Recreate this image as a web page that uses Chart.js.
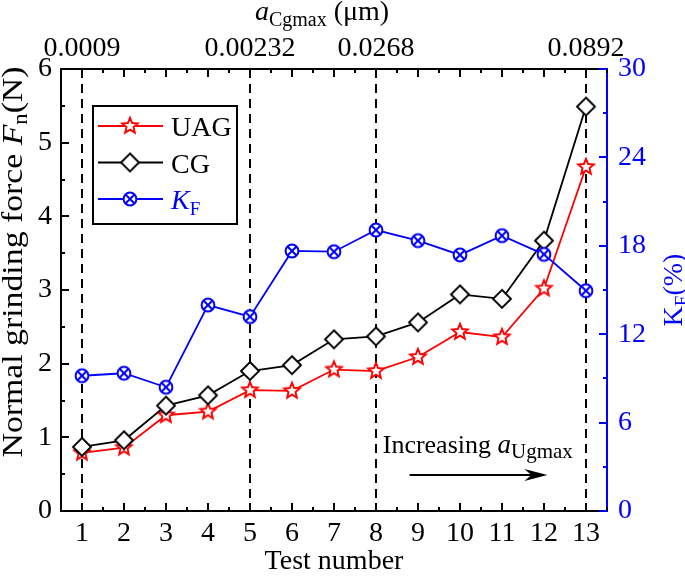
<!DOCTYPE html>
<html>
<head>
<meta charset="utf-8">
<script src="https://cdn.jsdelivr.net/npm/chart.js@4.4.1/dist/chart.umd.min.js"></script>
<style>
  html, body { margin: 0; padding: 0; background: #fff; }
  #wrap { width: 685px; height: 576px; }
</style>
</head>
<body>
<div id="wrap"><canvas id="chart" width="685" height="576"></canvas></div>
<script>
// Test numbers on the bottom axis
var testNumbers = [1, 2, 3, 4, 5, 6, 7, 8, 9, 10, 11, 12, 13];
// Normal grinding force Fn (N)
var uagForce = [0.79, 0.86, 1.30, 1.35, 1.64, 1.63, 1.92, 1.90, 2.09, 2.43, 2.36, 3.02, 4.67];
var cgForce = [0.87, 0.96, 1.43, 1.57, 1.90, 1.98, 2.33, 2.37, 2.56, 2.94, 2.88, 3.67, 5.49];
// Force reduction KF (%) on the right axis
var kfRatio = [9.18, 9.35, 8.40, 13.98, 13.19, 17.65, 17.60, 19.07, 18.35, 17.38, 18.69, 17.42, 14.95];
// Top axis: a_Cgmax (um) at selected tests (dashed lines)
var topTickTests = [1, 5, 8, 13];
var topTickLabels = ['0.0009', '0.00232', '0.0268', '0.0892'];

var SERIF = "'Liberation Serif', 'Times New Roman', serif";
var RED = '#ff0000', BLUE = '#0000ff', BLACK = '#000000';

Chart.defaults.font.family = SERIF;
Chart.defaults.font.size = 28;
Chart.defaults.color = BLACK;

// Marker images (Chart.js has no 5-point star or crossed circle)
function makeMarker(kind, color) {
  var c = document.createElement('canvas');
  c.width = 24; c.height = 24;
  var g = c.getContext('2d');
  g.translate(12, 12);
  g.strokeStyle = color;
  g.fillStyle = '#fff';
  g.lineWidth = 1.9;
  g.beginPath();
  if (kind === 'star') {
    for (var i = 0; i < 10; i++) {
      var r = i % 2 === 0 ? 8.2 : 3.7;
      var ang = -Math.PI / 2 + i * Math.PI / 5;
      g.lineTo(r * Math.cos(ang), r * Math.sin(ang));
    }
    g.closePath();
    g.fill(); g.stroke();
  } else if (kind === 'diamond') {
    g.moveTo(0, -9); g.lineTo(9, 0); g.lineTo(0, 9); g.lineTo(-9, 0);
    g.closePath();
    g.fill(); g.stroke();
  } else {
    g.lineWidth = 2;
    g.arc(0, 0, 6.4, 0, Math.PI * 2);
    g.fill(); g.stroke();
    var d = 6.4 * Math.SQRT1_2;
    g.beginPath();
    g.moveTo(-d, -d); g.lineTo(d, d);
    g.moveTo(d, -d); g.lineTo(-d, d);
    g.stroke();
  }
  return c;
}
var starMark = makeMarker('star', RED);
var diamondMark = makeMarker('diamond', BLACK);
var crossMark = makeMarker('cross', BLUE);

function toPoints(values) {
  return testNumbers.map(function(t, i) { return { x: t, y: values[i] }; });
}

// rich text: parts = [{text, font, dy}]
function richWidth(ctx, parts) {
  var w = 0;
  parts.forEach(function(p) { ctx.font = p.font; w += ctx.measureText(p.text).width; });
  return w;
}
function drawRich(ctx, parts, x, y, color) {
  ctx.fillStyle = color;
  ctx.textAlign = 'left';
  ctx.textBaseline = 'alphabetic';
  parts.forEach(function(p) {
    ctx.font = p.font;
    ctx.fillText(p.text, x, y + (p.dy || 0));
    x += ctx.measureText(p.text).width;
  });
}
function f(size, style) { return (style ? style + ' ' : '') + size + 'px ' + SERIF; }

var yTitle = [
  { text: 'Normal grinding force ', font: f(30) },
  { text: 'F', font: f(30, 'italic') },
  { text: 'n', font: f(20), dy: 5 },
  { text: '(N)', font: f(30) }
];
var yRTitle = [
  { text: 'K', font: f(28) },
  { text: 'F', font: f(19), dy: 6 },
  { text: '(%)', font: f(28) }
];
var topTitle = [
  { text: 'a', font: f(28, 'italic') },
  { text: 'Cgmax', font: f(20), dy: 6 },
  { text: ' (\u03bcm)', font: f(28) }
];
var noteText = [
  { text: 'Increasing ', font: f(26) },
  { text: 'a', font: f(27, 'italic') },
  { text: 'Ugmax', font: f(21), dy: 5 }
];
// annotation anchored in data units (x: test number, y: left axis)
var note = { textX: 8.16, textY: 0.79, arrowFrom: 8.8, arrowTo: 12.08, arrowY: 0.49 };

var extras = {
  id: 'extras',
  beforeDatasetsDraw: function(chart) {
    var ctx = chart.ctx, a = chart.chartArea, xs = chart.scales.x;
    ctx.save();
    ctx.strokeStyle = BLACK;
    ctx.lineWidth = 2;
    ctx.setLineDash([9, 6]);
    topTickTests.forEach(function(t) {
      var p = Math.round(xs.getPixelForValue(t));
      ctx.beginPath();
      ctx.moveTo(p, a.top);
      ctx.lineTo(p, a.bottom);
      ctx.stroke();
    });
    ctx.restore();
  },
  afterDraw: function(chart) {
    var ctx = chart.ctx, a = chart.chartArea;
    var specs = [
      { id: 'x', side: 'bottom', color: BLACK, major: function(v) { return Number.isInteger(v); } },
      { id: 'xTop', side: 'top', color: BLACK, major: function(v) { return Number.isInteger(v); } },
      { id: 'y', side: 'left', color: BLACK, major: function(v) { return Number.isInteger(v); } },
      { id: 'yR', side: 'right', color: BLUE, major: function(v) { return v % 6 === 0; } }
    ];
    // inward tick marks, long for labelled ticks, short for minor
    ctx.save();
    ctx.lineWidth = 2;
    specs.forEach(function(s) {
      var sc = chart.scales[s.id];
      ctx.strokeStyle = s.color;
      sc.ticks.forEach(function(t) {
        var len = s.major(t.value) ? 8 : 4;
        var p = Math.round(sc.getPixelForValue(t.value));
        ctx.beginPath();
        if (s.side === 'bottom') { ctx.moveTo(p, a.bottom); ctx.lineTo(p, a.bottom - len); }
        if (s.side === 'top') { ctx.moveTo(p, a.top); ctx.lineTo(p, a.top + len); }
        if (s.side === 'left') { ctx.moveTo(a.left, p); ctx.lineTo(a.left + len, p); }
        if (s.side === 'right') { ctx.moveTo(a.right, p); ctx.lineTo(a.right - len, p); }
        ctx.stroke();
      });
    });
    ctx.restore();

    // left axis title, stretched to the reference length
    ctx.save();
    ctx.translate(a.left - 39, a.top + 193);
    ctx.rotate(-Math.PI / 2);
    var w = richWidth(ctx, yTitle);
    ctx.scale(391 / w, 1);
    drawRich(ctx, yTitle, -w / 2, 0, BLACK);
    ctx.restore();

    // right axis title
    ctx.save();
    ctx.translate(a.right + 75, (a.top + a.bottom) / 2);
    ctx.rotate(-Math.PI / 2);
    w = richWidth(ctx, yRTitle);
    drawRich(ctx, yRTitle, -w / 2, 0, BLUE);
    ctx.restore();

    // top axis title
    ctx.save();
    w = richWidth(ctx, topTitle);
    drawRich(ctx, topTitle, 322 - w / 2, 20, BLACK);
    ctx.restore();

    // "Increasing a_Ugmax" with arrow
    var xs = chart.scales.x, ys = chart.scales.y;
    ctx.save();
    drawRich(ctx, noteText, xs.getPixelForValue(note.textX), ys.getPixelForValue(note.textY), BLACK);
    var x1 = xs.getPixelForValue(note.arrowFrom), x2 = xs.getPixelForValue(note.arrowTo);
    var ay = Math.round(ys.getPixelForValue(note.arrowY));
    ctx.strokeStyle = BLACK;
    ctx.fillStyle = BLACK;
    ctx.lineWidth = 2;
    ctx.beginPath();
    ctx.moveTo(x1, ay);
    ctx.lineTo(x2 - 14, ay);
    ctx.stroke();
    ctx.beginPath();
    ctx.moveTo(x2, ay);
    ctx.lineTo(x2 - 23, ay - 6);
    ctx.lineTo(x2 - 16, ay);
    ctx.lineTo(x2 - 23, ay + 6);
    ctx.closePath();
    ctx.fill();
    ctx.restore();

    // legend box inside the plot
    var lx = a.left + 32, ly = a.top + 37;
    ctx.save();
    ctx.fillStyle = '#fff';
    ctx.fillRect(lx, ly, 144, 118);
    ctx.strokeStyle = BLACK;
    ctx.lineWidth = 2;
    ctx.strokeRect(lx, ly, 144, 118);
    var rows = [
      { color: RED, mark: starMark, label: [{ text: 'UAG', font: f(28) }], textColor: BLACK },
      { color: BLACK, mark: diamondMark, label: [{ text: 'CG', font: f(28) }], textColor: BLACK },
      { color: BLUE, mark: crossMark, label: [{ text: 'K', font: f(28, 'italic') }, { text: 'F', font: f(19), dy: 6 }], textColor: BLUE }
    ];
    rows.forEach(function(r, i) {
      var ry = ly + 20 + i * 36.5;
      ctx.strokeStyle = r.color;
      ctx.lineWidth = 1.8;
      ctx.beginPath();
      ctx.moveTo(lx + 5, ry);
      ctx.lineTo(lx + 70, ry);
      ctx.stroke();
      ctx.drawImage(r.mark, lx + 37 - r.mark.width / 2, ry - r.mark.height / 2);
      drawRich(ctx, r.label, lx + 78, ry + 10, r.textColor);
    });
    ctx.restore();
  }
};

function intLabel(v) { return Number.isInteger(v) ? String(v) : ''; }

new Chart(document.getElementById('chart'), {
  type: 'line',
  data: {
    datasets: [
      { label: 'UAG', data: toPoints(uagForce), yAxisID: 'y', xAxisID: 'x', order: 2,
        borderColor: RED, borderWidth: 1.8, pointStyle: starMark, pointRadius: 8 },
      { label: 'CG', data: toPoints(cgForce), yAxisID: 'y', xAxisID: 'x', order: 1,
        borderColor: BLACK, borderWidth: 1.8, pointStyle: diamondMark, pointRadius: 8 },
      { label: 'KF', data: toPoints(kfRatio), yAxisID: 'yR', xAxisID: 'x', order: 0,
        borderColor: BLUE, borderWidth: 1.8, pointStyle: crossMark, pointRadius: 8 }
    ]
  },
  options: {
    responsive: false,
    animation: false,
    devicePixelRatio: 1,
    layout: { padding: 0 },
    elements: { line: { tension: 0, fill: false } },
    plugins: { legend: { display: false }, tooltip: { enabled: false } },
    scales: {
      x: {
        type: 'linear', position: 'bottom', min: 0.5, max: 13.5,
        grid: { display: false, drawTicks: false },
        border: { display: true, color: BLACK, width: 2 },
        ticks: { stepSize: 0.5, autoSkip: false, maxRotation: 0, minRotation: 0, padding: 6,
          color: BLACK, font: { size: 28 }, callback: intLabel },
        title: { display: true, text: 'Test number', color: BLACK,
          font: { size: 28, lineHeight: 1 }, padding: 0 },
        afterFit: function(s) { s.height = 65; }
      },
      xTop: {
        type: 'linear', position: 'top', min: 0.5, max: 13.5,
        grid: { display: false, drawTicks: false },
        border: { display: true, color: BLACK, width: 2 },
        ticks: { stepSize: 0.5, autoSkip: false, maxRotation: 0, minRotation: 0, padding: 4,
          color: BLACK, font: { size: 28 },
          callback: function(v) {
            var i = topTickTests.indexOf(v);
            return i >= 0 ? topTickLabels[i] : '';
          } },
        afterFit: function(s) { s.height = 69; }
      },
      y: {
        type: 'linear', position: 'left', min: 0, max: 6,
        grid: { display: false, drawTicks: false },
        border: { display: true, color: BLACK, width: 2 },
        ticks: { stepSize: 0.5, autoSkip: false, padding: 9, color: BLACK,
          font: { size: 28 }, callback: intLabel },
        afterFit: function(s) { s.width = 61; }
      },
      yR: {
        type: 'linear', position: 'right', min: 0, max: 30,
        grid: { display: false, drawTicks: false },
        border: { display: true, color: BLUE, width: 2 },
        ticks: { stepSize: 3, autoSkip: false, padding: 11, color: BLUE,
          font: { size: 28 },
          callback: function(v) { return v % 6 === 0 ? String(v) : ''; } },
        afterFit: function(s) { s.width = 78; }
      }
    }
  },
  plugins: [extras]
});
</script>
</body>
</html>
